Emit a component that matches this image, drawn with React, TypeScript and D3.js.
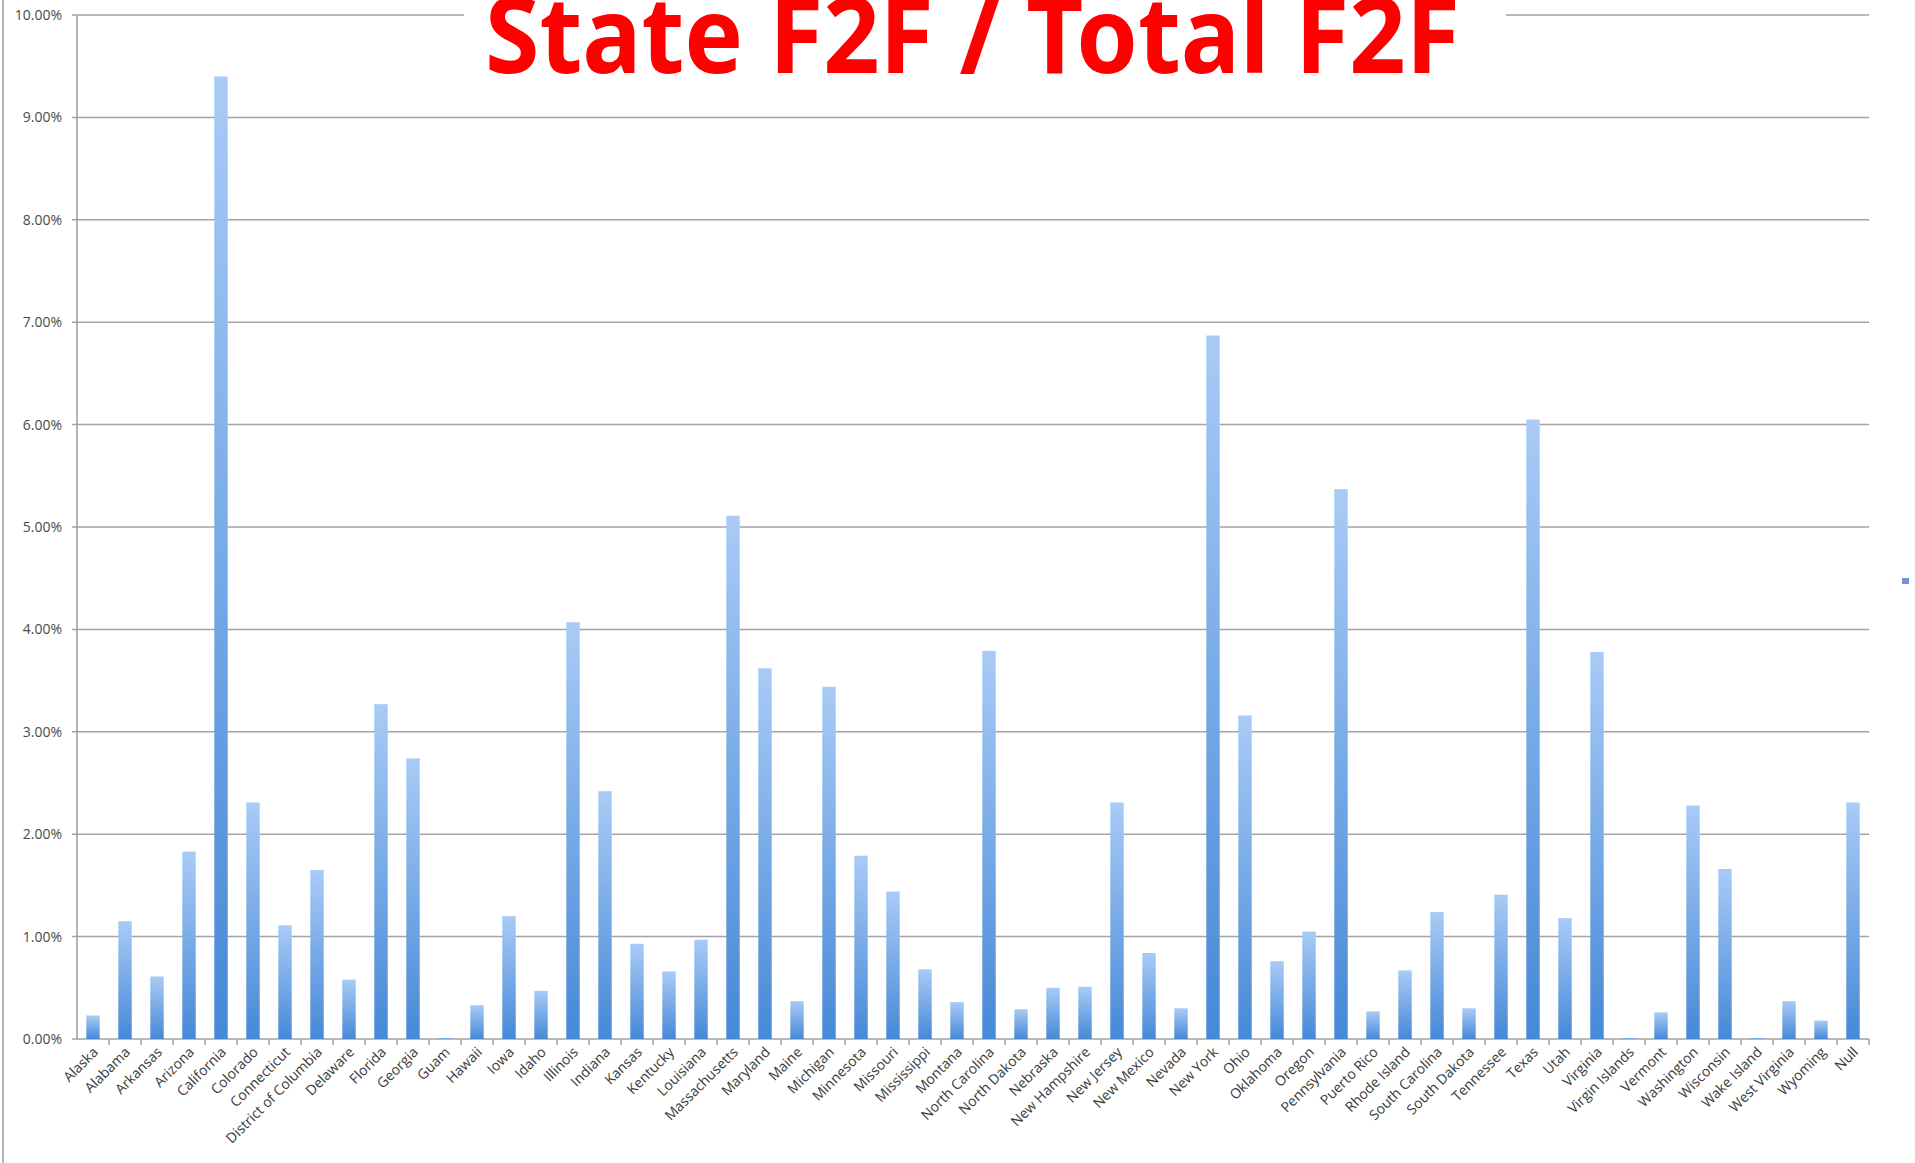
import React, { useEffect } from "react";
import * as d3 from "d3";

const states: string[] = [
  "Alaska", "Alabama", "Arkansas", "Arizona", "California", "Colorado", "Connecticut",
  "District of Columbia", "Delaware", "Florida", "Georgia", "Guam", "Hawaii", "Iowa", "Idaho",
  "Illinois", "Indiana", "Kansas", "Kentucky", "Louisiana", "Massachusetts", "Maryland", "Maine",
  "Michigan", "Minnesota", "Missouri", "Mississippi", "Montana", "North Carolina", "North Dakota",
  "Nebraska", "New Hampshire", "New Jersey", "New Mexico", "Nevada", "New York", "Ohio", "Oklahoma",
  "Oregon", "Pennsylvania", "Puerto Rico", "Rhode Island", "South Carolina", "South Dakota",
  "Tennessee", "Texas", "Utah", "Virginia", "Virgin Islands", "Vermont", "Washington", "Wisconsin",
  "Wake Island", "West Virginia", "Wyoming", "Null",
];

const shares: number[] = [
  0.23, 1.15, 0.61, 1.83, 9.4, 2.31, 1.11,
  1.65, 0.58, 3.27, 2.74, 0.01, 0.33, 1.2, 0.47,
  4.07, 2.42, 0.93, 0.66, 0.97, 5.11, 3.62, 0.37,
  3.44, 1.79, 1.44, 0.68, 0.36, 3.79, 0.29,
  0.5, 0.51, 2.31, 0.84, 0.3, 6.87, 3.16, 0.76,
  1.05, 5.37, 0.27, 0.67, 1.24, 0.3,
  1.41, 6.05, 1.18, 3.78, 0.01, 0.26, 2.28, 1.66,
  0.01, 0.37, 0.18, 2.31,
];

const yTicks: number[] = [0, 1, 2, 3, 4, 5, 6, 7, 8, 9, 10];

const titleText = "State F2F / Total F2F";

export default function App() {
  useEffect(() => {
    document.body.style.margin = "0";
  }, []);

  const W = 1915;
  const H = 1163;
  const left = 77;
  const right = 1869;
  const top = 15;
  const bottom = 1039;

  const x = d3.scaleBand<string>().domain(states).range([left, right]).paddingInner(0).paddingOuter(0);
  const y = d3.scaleLinear().domain([0, 10]).range([bottom, top]);
  const bw = x.bandwidth();
  const barW = bw * 0.42;

  return (
    <svg width={W} height={H} style={{ display: "block", background: "#fff" }}>
      <defs>
        <linearGradient id="barGrad" x1="0" y1="0" x2="0" y2="1">
          <stop offset="0%" stopColor="#a9cbf6" />
          <stop offset="100%" stopColor="#4689d6" />
        </linearGradient>
      </defs>
      <line x1={3} x2={3} y1={0} y2={H} stroke="#9a9a9a" strokeWidth={1.5} />
      {yTicks.map((t) => (
        <g key={t}>
          <line x1={left - 5} x2={right} y1={y(t)} y2={y(t)} stroke="#a3a3a3" strokeWidth={1.5} />
          <text
            x={62}
            y={y(t) + 5}
            textAnchor="end"
            fontFamily="'Open Sans', sans-serif"
            fontSize={14}
            fill="#4a4a4a"
          >
            {t.toFixed(2) + "%"}
          </text>
        </g>
      ))}
      <line x1={left} x2={left} y1={top} y2={bottom} stroke="#9a9a9a" strokeWidth={1.5} />
      {states.map((s, i) => (
        <line
          key={"tk" + i}
          x1={(x(s) as number) + bw}
          x2={(x(s) as number) + bw}
          y1={bottom}
          y2={bottom + 6}
          stroke="#9a9a9a"
          strokeWidth={1.5}
        />
      ))}
      {states.map((s, i) => {
        const cx = (x(s) as number) + bw / 2;
        const yt = y(shares[i]);
        return (
          <rect
            key={"b" + i}
            x={cx - barW / 2}
            y={yt}
            width={barW}
            height={Math.max(bottom - yt, 0.8)}
            fill="url(#barGrad)"
          />
        );
      })}
      {states.map((s, i) => {
        const cx = (x(s) as number) + bw / 2;
        return (
          <text
            key={"l" + i}
            transform={`translate(${cx + 6},${bottom + 14}) rotate(-45)`}
            textAnchor="end"
            fontFamily="'Open Sans', sans-serif"
            fontSize={14}
            fill="#3a3a3a"
          >
            {s}
          </text>
        );
      })}
      <rect x={464} y={0} width={1042} height={24} fill="#fff" />
      <text
        x={485}
        y={73}
        textLength={975}
        lengthAdjust="spacingAndGlyphs"
        fontFamily="'Noto Sans', 'Open Sans', sans-serif"
        fontWeight={700}
        fontSize={106}
        fill="#ff0000"
      >
        {titleText}
      </text>
      <rect x={1902} y={578} width={7} height={6} fill="#6d95d6" />
    </svg>
  );
}
